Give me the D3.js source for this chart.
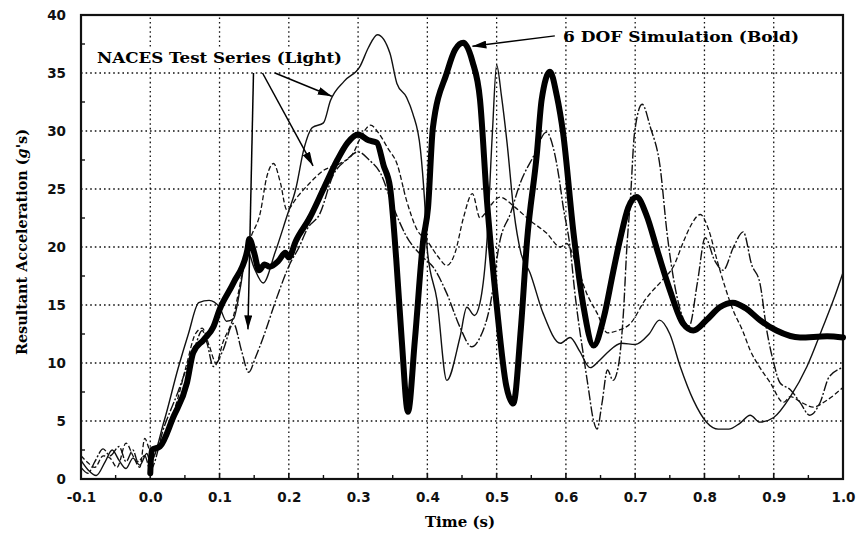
<!DOCTYPE html>
<html>
<head>
<meta charset="utf-8">
<script src="https://cdn.jsdelivr.net/npm/d3@7"></script>
<style>
  html, body { margin: 0; padding: 0; background: #fff; }
  svg { display: block; }
</style>
</head>
<body>
<svg id="chart" width="857" height="534"></svg>
<script>
// ---------------- DATA ----------------
const xTickValues = [-0.1, 0.0, 0.1, 0.2, 0.3, 0.4, 0.5, 0.6, 0.7, 0.8, 0.9, 1.0];
const xTickLabels = ["-0.1", "0.0", "0.1", "0.2", "0.3", "0.4", "0.5", "0.6", "0.7", "0.8", "0.9", "1.0"];
const yTickValues = [0, 5, 10, 15, 20, 25, 30, 35, 40];
const yTickLabels = ["0", "5", "10", "15", "20", "25", "30", "35", "40"];
const xMinorTicks = [-0.05, 0.05, 0.15, 0.25, 0.35, 0.45, 0.55, 0.65, 0.75, 0.85, 0.95];
const yMinorTicks = [2.5, 7.5, 12.5, 17.5, 22.5, 27.5, 32.5, 37.5];

const xTitle = "Time (s)";
const yTitleParts = ["Resultant Acceleration (", "g", "'s)"];
const lightLabel = "NACES Test Series (Light)";
const boldLabel = "6 DOF Simulation (Bold)";

// 6 DOF simulation (bold) [time s, g's]
const simulationBold = [
  [0.0, 0.5], [0.002, 2.5], [0.014, 2.8], [0.033, 5.3], [0.053, 8.3], [0.062, 10.9], [0.077, 12.0],
  [0.091, 13.1], [0.1, 14.6], [0.12, 16.9], [0.14, 19.7], [0.143, 20.7], [0.15, 19.5], [0.157, 18.0],
  [0.165, 18.5], [0.172, 18.3], [0.185, 18.8], [0.195, 19.5], [0.2, 19.1], [0.21, 20.5], [0.23, 22.5],
  [0.25, 25.0], [0.27, 27.5], [0.285, 29.0], [0.3, 29.7], [0.315, 29.2], [0.327, 29.0], [0.337, 27.0],
  [0.346, 25.2], [0.355, 19.0], [0.363, 12.0], [0.372, 5.8], [0.382, 12.0], [0.394, 20.6], [0.401, 23.4],
  [0.408, 30.3], [0.428, 35.0], [0.44, 37.0], [0.452, 37.6], [0.465, 36.0], [0.476, 32.7], [0.486, 24.0],
  [0.5, 15.0], [0.514, 8.0], [0.524, 6.5], [0.535, 13.0], [0.544, 20.6], [0.558, 28.0], [0.565, 32.7],
  [0.577, 35.1], [0.587, 33.0], [0.596, 29.8], [0.611, 21.2], [0.625, 15.0], [0.64, 11.5], [0.655, 14.0],
  [0.668, 17.8], [0.678, 20.6], [0.69, 23.4], [0.702, 24.3], [0.716, 22.8], [0.733, 19.5], [0.75, 16.3],
  [0.769, 13.4], [0.784, 12.8], [0.803, 13.7], [0.822, 14.8], [0.841, 15.2], [0.86, 14.7], [0.88, 13.7],
  [0.904, 12.8], [0.938, 12.2], [0.977, 12.3], [1.0, 12.2]
];

// NACES test series (light)
const nacesTest1 = [
  [-0.1, 1.6], [-0.09, 0.8], [-0.078, 0.3], [-0.065, 1.5], [-0.055, 2.5], [-0.045, 1.6], [-0.035, 0.9],
  [-0.025, 1.8], [-0.015, 1.2], [-0.005, 2.2], [0.0, 1.5], [0.02, 5.0], [0.04, 9.5], [0.055, 12.5],
  [0.07, 15.2], [0.085, 15.4], [0.1, 14.8], [0.11, 13.6], [0.12, 13.8], [0.13, 16.5], [0.14, 19.7],
  [0.15, 18.2], [0.163, 16.9], [0.18, 19.5], [0.197, 22.6], [0.21, 25.0], [0.222, 28.5], [0.234, 30.3],
  [0.25, 30.7], [0.26, 32.6], [0.28, 34.3], [0.303, 35.6], [0.315, 37.2], [0.328, 38.3], [0.346, 36.7],
  [0.356, 34.1], [0.37, 32.9], [0.379, 31.5], [0.39, 28.4], [0.396, 24.0], [0.4, 19.7], [0.414, 15.4],
  [0.428, 8.5], [0.447, 12.2], [0.457, 14.8], [0.468, 14.1], [0.476, 15.2], [0.486, 20.5], [0.494, 30.0],
  [0.5, 35.7], [0.507, 33.0], [0.515, 29.0], [0.525, 23.0], [0.535, 19.5], [0.548, 17.8], [0.567, 14.3],
  [0.592, 11.7], [0.606, 12.2], [0.62, 11.0], [0.635, 9.6], [0.648, 10.2], [0.66, 10.9], [0.68, 11.7],
  [0.7, 11.6], [0.72, 12.5], [0.735, 13.7], [0.75, 12.5], [0.765, 9.7], [0.784, 6.8], [0.803, 4.9],
  [0.82, 4.3], [0.835, 4.3], [0.851, 4.8], [0.866, 5.5], [0.88, 4.9], [0.9, 5.3], [0.924, 7.1],
  [0.948, 9.7], [0.971, 13.1], [0.986, 15.4], [1.0, 17.8]
];

const nacesTest2 = [
  [-0.1, 2.0], [-0.09, 1.4], [-0.08, 1.0], [-0.068, 2.0], [-0.058, 1.8], [-0.048, 1.0], [-0.035, 3.1],
  [-0.025, 2.0], [-0.015, 1.0], [-0.008, 3.5], [0.0, 2.5], [0.02, 3.5], [0.04, 7.0], [0.053, 10.0],
  [0.065, 12.5], [0.075, 13.0], [0.085, 11.5], [0.095, 10.0], [0.105, 11.8], [0.12, 14.0], [0.132, 17.5],
  [0.144, 20.6], [0.159, 23.0], [0.168, 26.0], [0.178, 27.2], [0.188, 25.5], [0.197, 23.2], [0.212, 24.3],
  [0.23, 25.5], [0.25, 26.6], [0.274, 27.2], [0.293, 28.1], [0.305, 29.6], [0.318, 30.5], [0.33, 29.8],
  [0.343, 28.5], [0.356, 27.2], [0.37, 24.0], [0.385, 21.5], [0.4, 20.5], [0.415, 19.2], [0.428, 18.4],
  [0.44, 19.5], [0.452, 22.5], [0.465, 24.6], [0.476, 22.5], [0.49, 23.5], [0.505, 24.3], [0.525, 23.5],
  [0.548, 22.3], [0.572, 21.2], [0.592, 20.0], [0.601, 20.3], [0.615, 18.5], [0.63, 16.0], [0.645, 14.3],
  [0.66, 12.6], [0.675, 12.8], [0.693, 13.4], [0.715, 15.5], [0.74, 17.2], [0.755, 18.3], [0.77, 20.5],
  [0.779, 21.7], [0.794, 22.8], [0.806, 21.5], [0.818, 18.9], [0.83, 16.5], [0.841, 14.6], [0.855, 12.8],
  [0.866, 11.1], [0.88, 9.6], [0.895, 8.3], [0.914, 6.6], [0.924, 7.1], [0.94, 6.6], [0.957, 6.2],
  [0.977, 6.8], [1.0, 7.9]
];

const nacesTest3 = [
  [-0.1, 1.0], [-0.09, 0.5], [-0.08, 1.5], [-0.068, 2.6], [-0.058, 2.0], [-0.045, 2.8], [-0.035, 1.5],
  [-0.025, 2.5], [-0.018, 1.5], [-0.008, 2.0], [0.0, 0.8], [0.02, 4.5], [0.04, 7.5], [0.055, 10.0],
  [0.065, 11.5], [0.075, 12.8], [0.082, 11.7], [0.091, 9.7], [0.105, 11.1], [0.12, 13.4], [0.132, 11.0],
  [0.142, 9.2], [0.152, 10.5], [0.163, 12.2], [0.183, 15.7], [0.202, 18.6], [0.215, 20.0], [0.226, 21.5],
  [0.245, 22.9], [0.264, 26.2], [0.283, 27.5], [0.3, 28.2], [0.316, 27.5], [0.332, 26.4], [0.351, 23.4],
  [0.37, 20.9], [0.394, 19.1], [0.408, 18.3], [0.428, 16.0], [0.447, 13.1], [0.464, 11.4], [0.476, 12.2],
  [0.49, 14.8], [0.505, 20.6], [0.52, 22.9], [0.534, 25.5], [0.553, 27.8], [0.572, 29.9], [0.582, 28.5],
  [0.59, 26.0], [0.596, 23.5], [0.606, 20.0], [0.613, 16.0], [0.62, 12.8], [0.625, 10.8], [0.632, 8.0],
  [0.64, 5.0], [0.645, 4.3], [0.652, 6.5], [0.66, 9.4], [0.668, 8.5], [0.675, 9.5], [0.683, 14.3],
  [0.688, 20.0], [0.693, 24.0], [0.699, 29.8], [0.71, 32.3], [0.722, 30.3], [0.736, 26.9], [0.746, 21.2],
  [0.765, 14.6], [0.778, 13.2], [0.79, 17.0], [0.801, 20.8], [0.815, 18.8], [0.827, 18.0], [0.842, 20.0],
  [0.856, 21.3], [0.868, 18.5], [0.88, 16.9], [0.89, 12.8], [0.9, 10.0], [0.909, 8.3], [0.924, 7.7],
  [0.938, 6.6], [0.952, 5.5], [0.967, 6.6], [0.98, 8.8], [1.0, 9.6]
];

// annotation arrow endpoints in data units [time, g's]
const boldArrowFrom = [0.584, 38.2];
const boldArrowTo = [0.465, 37.3];
const lightArrowFrom = [[0.149, 35.0], [0.162, 35.0], [0.18, 35.0]];
const lightArrowTo = [[0.141, 12.9], [0.235, 27.0], [0.262, 33.0]];

// ---------------- DRAW ----------------
const svg = d3.select("#chart");
const W = 857, H = 534;
const m = { left: 81, right: 14, top: 15, bottom: 55 };

const x = d3.scaleLinear().domain([-0.1, 1.0]).range([m.left, W - m.right]);
const y = d3.scaleLinear().domain([0, 40]).range([H - m.bottom, m.top]);

const ink = "#111";
const serif = "'DejaVu Serif', 'Liberation Serif', serif";
const sans = "'DejaVu Sans', Arial, sans-serif";

// grid (dotted)
const grid = svg.append("g");
grid.selectAll("line.gx").data(xTickValues.slice(1, -1)).join("line")
  .attr("x1", d => x(d)).attr("x2", d => x(d))
  .attr("y1", y(0)).attr("y2", y(40))
  .attr("stroke", ink).attr("stroke-width", 1.3).attr("stroke-dasharray", "1.6,3");
grid.selectAll("line.gy").data(yTickValues.slice(1, -1)).join("line")
  .attr("y1", d => y(d)).attr("y2", d => y(d))
  .attr("x1", x(-0.1)).attr("x2", x(1.0))
  .attr("stroke", ink).attr("stroke-width", 1.3).attr("stroke-dasharray", "1.6,3");

// axes
const xAxis = d3.axisBottom(x).tickValues(xTickValues)
  .tickFormat((d, i) => xTickLabels[i]).tickSize(0).tickPadding(13);
const yAxis = d3.axisLeft(y).tickValues(yTickValues)
  .tickFormat((d, i) => yTickLabels[i]).tickSize(0).tickPadding(15);

const gx = svg.append("g").attr("transform", `translate(0,${y(0)})`).call(xAxis);
gx.select(".domain").remove();
gx.selectAll("text").attr("font-family", sans).attr("font-weight", "bold")
  .attr("font-size", 13.5).attr("fill", ink);

const gy = svg.append("g").attr("transform", `translate(${x(-0.1)},0)`).call(yAxis);
gy.select(".domain").remove();
gy.selectAll("text").attr("font-family", sans).attr("font-weight", "bold")
  .attr("font-size", 13.5).attr("fill", ink).attr("dy", "0.35em");

// tick marks inside on bottom and left
svg.append("g").selectAll("line").data(xTickValues).join("line")
  .attr("x1", d => x(d)).attr("x2", d => x(d)).attr("y1", y(0)).attr("y2", y(0) - 6)
  .attr("stroke", ink).attr("stroke-width", 1.6);
svg.append("g").selectAll("line").data(xMinorTicks).join("line")
  .attr("x1", d => x(d)).attr("x2", d => x(d)).attr("y1", y(0)).attr("y2", y(0) - 4)
  .attr("stroke", ink).attr("stroke-width", 1.4);
svg.append("g").selectAll("line").data(yMinorTicks).join("line")
  .attr("y1", d => y(d)).attr("y2", d => y(d)).attr("x1", x(-0.1)).attr("x2", x(-0.1) + 4)
  .attr("stroke", ink).attr("stroke-width", 1.4);

// frame
svg.append("rect")
  .attr("x", x(-0.1)).attr("y", y(40))
  .attr("width", x(1.0) - x(-0.1)).attr("height", y(0) - y(40))
  .attr("fill", "none").attr("stroke", ink).attr("stroke-width", 2.2);

// lines
const line = d3.line().x(d => x(d[0])).y(d => y(d[1])).curve(d3.curveMonotoneX);
const plot = svg.append("g");

plot.append("path").datum(nacesTest2).attr("d", line)
  .attr("fill", "none").attr("stroke", ink).attr("stroke-width", 1.3)
  .attr("stroke-dasharray", "5,2.5");
plot.append("path").datum(nacesTest3).attr("d", line)
  .attr("fill", "none").attr("stroke", ink).attr("stroke-width", 1.4)
  .attr("stroke-dasharray", "10,2,2,2");
plot.append("path").datum(nacesTest1).attr("d", line)
  .attr("fill", "none").attr("stroke", ink).attr("stroke-width", 1.4);
plot.append("path").datum(simulationBold).attr("d", line)
  .attr("fill", "none").attr("stroke", "#000").attr("stroke-width", 6)
  .attr("stroke-linejoin", "round").attr("stroke-linecap", "round");

// arrow marker
svg.append("defs").append("marker")
  .attr("id", "arrow").attr("viewBox", "0 0 14 8")
  .attr("refX", 14).attr("refY", 4)
  .attr("markerWidth", 14).attr("markerHeight", 8)
  .attr("markerUnits", "userSpaceOnUse").attr("orient", "auto")
  .append("path").attr("d", "M0,0 L14,4 L0,8 Z").attr("fill", "#000");

const ann = svg.append("g");
ann.append("line")
  .attr("x1", x(boldArrowFrom[0])).attr("y1", y(boldArrowFrom[1]))
  .attr("x2", x(boldArrowTo[0])).attr("y2", y(boldArrowTo[1]))
  .attr("stroke", "#000").attr("stroke-width", 1.5).attr("marker-end", "url(#arrow)");
lightArrowFrom.forEach((f, i) => {
  ann.append("line")
    .attr("x1", x(f[0])).attr("y1", y(f[1]))
    .attr("x2", x(lightArrowTo[i][0])).attr("y2", y(lightArrowTo[i][1]))
    .attr("stroke", "#000").attr("stroke-width", 1.5).attr("marker-end", "url(#arrow)");
});

// annotation texts
ann.append("rect").attr("x", 95).attr("y", 49).attr("width", 250).attr("height", 18).attr("fill", "#fff");
ann.append("text").attr("x", 97).attr("y", 63)
  .attr("font-family", serif).attr("font-weight", "bold").attr("font-size", 14)
  .attr("textLength", 245).attr("lengthAdjust", "spacingAndGlyphs")
  .attr("fill", "#000").text(lightLabel);
ann.append("text").attr("x", 563).attr("y", 42)
  .attr("font-family", serif).attr("font-weight", "bold").attr("font-size", 15)
  .attr("textLength", 236).attr("lengthAdjust", "spacingAndGlyphs")
  .attr("fill", "#000").text(boldLabel);

// axis titles
const yt = svg.append("text")
  .attr("transform", "translate(27,242) rotate(-90)")
  .attr("text-anchor", "middle")
  .attr("font-family", serif).attr("font-weight", "bold").attr("font-size", 14)
  .attr("textLength", 226).attr("lengthAdjust", "spacingAndGlyphs")
  .attr("fill", "#000");
yt.append("tspan").text(yTitleParts[0]);
yt.append("tspan").attr("font-style", "italic").text(yTitleParts[1]);
yt.append("tspan").text(yTitleParts[2]);

svg.append("text").attr("x", 460).attr("y", 527)
  .attr("text-anchor", "middle")
  .attr("font-family", serif).attr("font-weight", "bold").attr("font-size", 15)
  .attr("fill", "#000").text(xTitle);
</script>
</body>
</html>
